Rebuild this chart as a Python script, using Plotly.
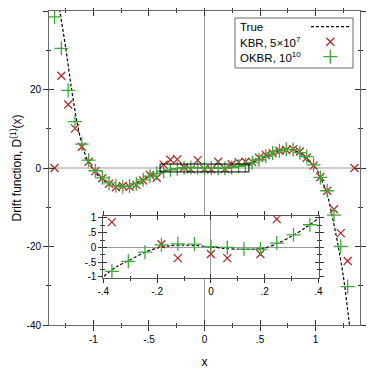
import plotly.graph_objects as go

# ---------------- data ----------------
X_GRID = [-1.350, -1.289, -1.227, -1.166, -1.105, -1.043, -0.982, -0.920, -0.859,
          -0.798, -0.736, -0.675, -0.614, -0.552, -0.491, -0.430, -0.368, -0.307,
          -0.245, -0.184, -0.123, -0.061, 0.000, 0.061, 0.123, 0.184, 0.245,
          0.307, 0.368, 0.430, 0.491, 0.552, 0.614, 0.675, 0.736, 0.798, 0.859,
          0.920, 0.982, 1.043, 1.105, 1.166, 1.227, 1.289, 1.350]

KBR = [0.0, 23.5, 16.2, 10.1, 5.4, 1.6, -0.8, -2.6, -4.0, -4.9, -4.6, -4.8, -4.3,
       -3.2, -1.8, -2.5, 0.86, 2.1, 2.2, 0.11, -0.36, 2.0, -0.22, -0.36, 1.6,
       -0.22, 0.96, 1.5, 1.6, 1.5, 2.6, 3.3, 3.8, 4.4, 4.6, 4.8, 4.2, 2.6, 0.6,
       -2.3, -5.8, -10.5, -16.6, -23.7, 0.0]

OKBR = [38.5, 30.5, 19.8, 11.8, 6.1, 2.0, -0.7, -2.5, -3.8, -4.5, -4.75, -4.6,
        -4.0, -3.0, -2.1, -1.35, -0.81, -0.47, -0.16, 0.09, 0.125, 0.115, 0.03,
        0.0, -0.055, -0.055, 0.15, 0.43, 0.77, 1.35, 2.1, 3.0, 3.8, 4.4, 4.75,
        4.7, 3.9, 2.9, 0.8, -2.4, -5.8, -12.0, -20.0, -30.2, -44.0]

TRUE_X = [-1.35, -1.30, -1.25, -1.20, -1.15, -1.10, -1.05, -1.00, -0.95, -0.90,
          -0.85, -0.80, -0.75, -0.70, -0.65, -0.60, -0.55, -0.50, -0.45, -0.40,
          -0.35, -0.30, -0.25, -0.20, -0.15, -0.10, -0.05, 0.00, 0.05, 0.10,
          0.15, 0.20, 0.25, 0.30, 0.35, 0.40, 0.45, 0.50, 0.55, 0.60, 0.65,
          0.70, 0.75, 0.80, 0.85, 0.90, 0.95, 1.00, 1.05, 1.10, 1.15, 1.20,
          1.25, 1.30, 1.35]

TRUE_Y = [48.0, 39.5, 30.7, 20.7, 12.0, 5.6, 1.8, -0.5, -2.2, -3.3, -4.1, -4.6,
          -4.75, -4.6, -4.2, -3.6, -2.9, -2.2, -1.55, -1.0, -0.65, -0.42, -0.18,
          -0.02, 0.06, 0.08, 0.06, 0.02, -0.03, -0.06, -0.06, -0.02, 0.15, 0.38,
          0.66, 1.0, 1.55, 2.2, 2.9, 3.6, 4.15, 4.55, 4.75, 4.55, 3.9, 2.7, 1.4,
          0.1, -2.8, -6.2, -12.3, -19.3, -27.6, -38.7, -50.0]

MAIN_XTICKS = [-1, -0.5, 0, 0.5, 1]
MAIN_XTEXT = ["-1", "-.5", "0", ".5", "1"]
MAIN_YTICKS = [-40, -20, 0, 20, 40]
MAIN_YTEXT = ["-40", "-20", "0", "20", "40"]
INSET_XTICKS = [-0.4, -0.2, 0, 0.2, 0.4]
INSET_XTEXT = ["-.4", "-.2", "0", ".2", ".4"]
INSET_YTICKS = [-1, -0.5, 0, 0.5, 1]
INSET_YTEXT = ["-1", "-.5", "0", ".5", "1"]

LEGEND_NAMES = ["True", "KBR, 5×10<sup>7</sup>", "OKBR, 10<sup>10</sup>"]

# ---------------- style ----------------
RED = "#b02a2a"
GREEN = "#3aaa35"
FONT = "Liberation Sans, Arial, Helvetica, sans-serif"
MAIN_XR = [-1.4, 1.4]
MAIN_YR = [-40, 40]
IN_XR = [-0.4, 0.4]
IN_YR = [-1.025, 1.057]
IN_XDOM = [0.1746, 0.8666]
IN_YDOM = [0.1506, 0.3462]

line_style = dict(color="black", width=1.2, dash="3px,2px", shape="spline", smoothing=0.8)
kbr_marker = dict(symbol="x-thin-open", size=8, color=RED, line=dict(color=RED, width=1.3))
okbr_marker = dict(symbol="cross-thin-open", size=10, color=GREEN, line=dict(color=GREEN, width=1.3))

fig = go.Figure()
for xa, ya in [("x", "y"), ("x2", "y2")]:
    fig.add_trace(go.Scatter(x=TRUE_X, y=TRUE_Y, mode="lines", line=line_style,
                             xaxis=xa, yaxis=ya, showlegend=False, hoverinfo="skip"))
    fig.add_trace(go.Scatter(x=X_GRID, y=KBR, mode="markers", marker=kbr_marker,
                             xaxis=xa, yaxis=ya, showlegend=False, hoverinfo="skip"))
    fig.add_trace(go.Scatter(x=X_GRID, y=OKBR, mode="markers", marker=okbr_marker,
                             xaxis=xa, yaxis=ya, showlegend=False, hoverinfo="skip"))

# empty traces that bring the "inside tick" overlay axes to life
for xa, ya in [("x3", "y3"), ("x4", "y4")]:
    fig.add_trace(go.Scatter(x=[], y=[], xaxis=xa, yaxis=ya, showlegend=False))

# legend key glyphs on a paper-like overlay axis (range 0..1 = plot area)
LEG_L, LEG_R, LEG_B, LEG_T = 0.598, 0.9775, 0.8185, 0.9777
LEG_ROWS = [0.950, 0.9022, 0.8545]
KEY_X = 0.9045
fig.add_trace(go.Scatter(x=[KEY_X], y=[LEG_ROWS[1]], mode="markers", marker=kbr_marker,
                         xaxis="x5", yaxis="y5", showlegend=False, hoverinfo="skip"))
fig.add_trace(go.Scatter(x=[KEY_X], y=[LEG_ROWS[2]], mode="markers", marker=okbr_marker,
                         xaxis="x5", yaxis="y5", showlegend=False, hoverinfo="skip"))

TICKC = "#333333"
AXC = "#6a6a6a"
INC = "#555555"
tickfont = dict(size=10, color="black", family=FONT)


def outer_axis(rng, vals, text, minor_dt, linecolor, length, **kw):
    d = dict(range=rng, tickmode="array", tickvals=vals, ticktext=text,
             ticks="outside", ticklen=length, tickwidth=1, tickcolor=TICKC,
             showline=True, linecolor=linecolor, linewidth=1, mirror="ticks",
             showgrid=False, zeroline=False, tickfont=tickfont, automargin=False,
             minor=dict(ticks="outside", ticklen=2, dtick=minor_dt, tick0=0,
                        tickcolor=TICKC, tickwidth=1, showgrid=False))
    d.update(kw)
    return d


def inner_axis(rng, vals, minor_dt, length, **kw):
    d = dict(range=rng, tickmode="array", tickvals=vals, showticklabels=False,
             ticks="inside", ticklen=length, tickwidth=1, tickcolor=TICKC,
             showline=False, mirror="ticks", showgrid=False, zeroline=False,
             automargin=False,
             minor=dict(ticks="inside", ticklen=2, dtick=minor_dt, tick0=0,
                        tickcolor=TICKC, tickwidth=1, showgrid=False))
    d.update(kw)
    return d


# the page body adds an 8px offset, so the figure is 366px and margins are
# measured in figure coordinates
fig.update_layout(
    width=366, height=366,
    margin=dict(l=41, r=14, t=3, b=49, pad=0, autoexpand=False),
    paper_bgcolor="white", plot_bgcolor="white",
    template="none",
    font=dict(family=FONT, color="black", size=11),
    showlegend=False,
    xaxis=outer_axis(MAIN_XR, MAIN_XTICKS, MAIN_XTEXT, 0.25, AXC, 5, anchor="y",
                     title=dict(text="x", font=dict(size=12), standoff=13)),
    yaxis=outer_axis(MAIN_YR, MAIN_YTICKS, MAIN_YTEXT, 10, AXC, 5, anchor="x",
                     title=dict(text="Drift function, D<sup>(1)</sup>(x)",
                                font=dict(size=12), standoff=6)),
    xaxis3=inner_axis(MAIN_XR, MAIN_XTICKS, 0.25, 5, overlaying="x", anchor="y3"),
    yaxis3=inner_axis(MAIN_YR, MAIN_YTICKS, 10, 5, overlaying="y", anchor="x3"),
    xaxis2=outer_axis(IN_XR, INSET_XTICKS, INSET_XTEXT, 0.1, INC, 4, anchor="y2",
                      domain=IN_XDOM, zeroline=True, zerolinecolor="#9a9a9a",
                      zerolinewidth=1),
    yaxis2=outer_axis(IN_YR, INSET_YTICKS, INSET_YTEXT, 0.25, INC, 4, anchor="x2",
                      domain=IN_YDOM, zeroline=True, zerolinecolor="#9a9a9a",
                      zerolinewidth=1),
    xaxis4=inner_axis(IN_XR, INSET_XTICKS, 0.1, 4, overlaying="x2", anchor="y4"),
    yaxis4=inner_axis(IN_YR, INSET_YTICKS, 0.25, 4, overlaying="y2", anchor="x4"),
    xaxis5=dict(range=[0, 1], overlaying="x", anchor="y5", visible=False, automargin=False),
    yaxis5=dict(range=[0, 1], overlaying="y", anchor="x5", visible=False, automargin=False),
)

# main-plot zero lines (vertical one interrupted by the inset)
y_in_bot = MAIN_YR[0] + (MAIN_YR[1] - MAIN_YR[0]) * IN_YDOM[0]
y_in_top = MAIN_YR[0] + (MAIN_YR[1] - MAIN_YR[0]) * IN_YDOM[1]
zl = dict(color="#9a9a9a", width=1)
fig.add_shape(type="line", xref="x", yref="y", x0=MAIN_XR[0], x1=MAIN_XR[1], y0=0, y1=0,
              line=zl, layer="below")
fig.add_shape(type="line", xref="x", yref="y", x0=0, x1=0, y0=MAIN_YR[0], y1=y_in_bot,
              line=zl, layer="below")
fig.add_shape(type="line", xref="x", yref="y", x0=0, x1=0, y0=y_in_top, y1=MAIN_YR[1],
              line=zl, layer="below")
# zoom box marking the inset region
fig.add_shape(type="rect", xref="x", yref="y", x0=IN_XR[0], x1=IN_XR[1], y0=-1, y1=1,
              line=dict(color="black", width=1))

# legend frame, line key and labels
fig.add_shape(type="rect", xref="x domain", yref="y domain", x0=LEG_L, x1=LEG_R,
              y0=LEG_B, y1=LEG_T, line=dict(color="#6a6a6a", width=1),
              fillcolor="white", layer="below")
fig.add_shape(type="line", xref="x domain", yref="y domain", x0=0.8424, x1=0.9678,
              y0=LEG_ROWS[0], y1=LEG_ROWS[0],
              line=dict(color="black", width=1.2, dash="3px,2px"))
for name, yy in zip(LEGEND_NAMES, LEG_ROWS):
    fig.add_annotation(xref="x domain", yref="y domain", x=0.6093, y=yy, text=name,
                       showarrow=False, xanchor="left", yanchor="middle",
                       font=dict(size=11.5, family=FONT, color="black"))

fig.write_html("out.html")
